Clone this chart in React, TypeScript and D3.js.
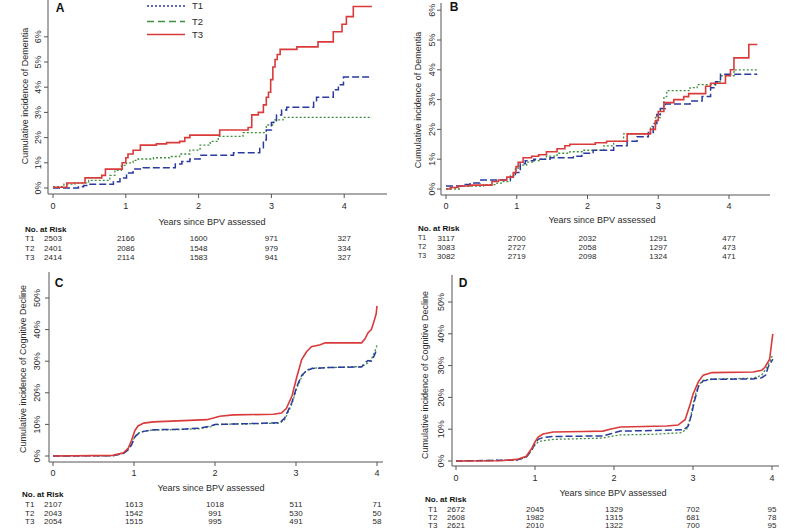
import React from "react";
import * as d3 from "d3";

type Pt = [number, number];

// ---------- data ----------
const xTicks = [0, 1, 2, 3, 4];
const yTicksDementia = [0, 1, 2, 3, 4, 5, 6];
const yTicksCognitive = [0, 10, 20, 30, 40, 50];
const groups = ["T1", "T2", "T3"];

// Panel A: dementia (step curves, %)
const A_T1: Pt[] = [[0,0],[0.35,0.05],[0.42,0.1],[0.49,0.15],[0.83,0.25],[0.92,0.4],[1.01,0.6],[1.1,0.75],[1.24,0.8],[1.68,0.95],[1.77,1.05],[1.88,1.15],[2.02,1.3],[2.48,1.4],[2.84,1.6],[2.89,1.9],[2.93,2.3],[3.0,2.6],[3.07,2.9],[3.14,3.1],[3.21,3.2],[3.58,3.4],[3.62,3.6],[3.85,3.9],[3.92,4.1],[3.99,4.4],[4.38,4.4]];
const A_T2: Pt[] = [[0,0.05],[0.15,0.15],[0.3,0.2],[0.49,0.3],[0.78,0.5],[0.85,0.7],[0.94,0.9],[1.01,1.0],[1.1,1.1],[1.17,1.15],[1.38,1.2],[1.6,1.25],[1.74,1.35],[1.88,1.5],[2.02,1.7],[2.16,1.85],[2.27,2.05],[2.61,2.2],[2.93,2.5],[3.03,2.7],[3.16,2.8],[4.38,2.8]];
const A_T3: Pt[] = [[0,0.03],[0.19,0.2],[0.44,0.4],[0.67,0.5],[0.72,0.75],[0.95,1.0],[1.0,1.2],[1.03,1.35],[1.1,1.5],[1.2,1.7],[1.42,1.75],[1.56,1.8],[1.74,1.85],[1.81,2.0],[1.88,2.1],[2.29,2.3],[2.68,2.4],[2.73,2.9],[2.82,3.0],[2.89,3.3],[2.93,3.6],[2.96,3.8],[2.99,4.3],[3.02,4.8],[3.05,5.1],[3.08,5.3],[3.12,5.5],[3.35,5.6],[3.64,5.8],[3.85,6.2],[3.97,6.5],[4.03,6.8],[4.125,7.2],[4.38,7.2]];

// Panel B: dementia (step curves, %)
const B_T1: Pt[] = [[0,0.1],[0.25,0.15],[0.34,0.2],[0.48,0.3],[0.91,0.4],[0.98,0.55],[1.05,0.85],[1.12,0.95],[1.24,1.0],[1.47,1.05],[1.8,1.1],[1.92,1.2],[2.08,1.3],[2.37,1.45],[2.56,1.6],[2.7,1.75],[2.86,1.9],[2.93,2.2],[2.98,2.5],[3.03,2.7],[3.1,2.85],[3.45,2.95],[3.62,3.1],[3.74,3.4],[3.81,3.6],[3.88,3.85],[4.4,3.85]];
const B_T2: Pt[] = [[0,0],[0.2,0.1],[0.53,0.15],[0.72,0.2],[0.81,0.25],[0.91,0.45],[0.98,0.7],[1.05,0.8],[1.14,0.9],[1.24,0.95],[1.33,1.0],[1.42,1.1],[1.57,1.2],[1.75,1.25],[1.94,1.3],[2.23,1.45],[2.37,1.6],[2.51,1.85],[2.89,2.1],[2.96,2.4],[3.03,2.7],[3.08,3.1],[3.12,3.3],[3.45,3.4],[3.55,3.5],[3.83,3.6],[3.88,3.8],[4.07,4.0],[4.4,4.0]];
const B_T3: Pt[] = [[0,0],[0.06,0.05],[0.17,0.1],[0.34,0.13],[0.65,0.25],[0.74,0.3],[0.86,0.4],[0.95,0.55],[0.99,0.75],[1.02,0.9],[1.09,1.05],[1.21,1.1],[1.31,1.15],[1.42,1.25],[1.57,1.35],[1.68,1.45],[1.75,1.5],[2.11,1.55],[2.27,1.6],[2.56,1.85],[2.89,2.0],[2.96,2.3],[3.0,2.6],[3.08,2.9],[3.22,3.0],[3.36,3.1],[3.43,3.2],[3.67,3.45],[3.74,3.55],[3.95,3.8],[4.02,4.0],[4.07,4.4],[4.28,4.85],[4.4,4.85]];

// Panel C: cognitive decline (%)
const C_T1: Pt[] = [[0,0],[0.74,0.1],[0.87,0.8],[0.93,2],[0.97,3.5],[1.01,6],[1.05,7],[1.12,7.8],[1.24,8.3],[1.6,8.5],[1.8,8.8],[1.95,9.5],[2.0,10],[2.2,10.1],[2.8,10.5],[2.86,12],[2.95,17],[3.01,22],[3.07,25.5],[3.13,27],[3.2,27.7],[3.4,28],[3.81,28.2],[3.85,29.5],[3.89,30.2],[3.93,30],[3.97,32],[4.0,34]];
const C_T2: Pt[] = [[0,0],[0.74,0.1],[0.87,0.9],[0.93,2.2],[0.97,3.8],[1.01,6.2],[1.05,7.2],[1.12,7.9],[1.24,8.2],[1.6,8.4],[1.8,8.6],[1.95,9.3],[2.0,9.9],[2.2,10.1],[2.8,10.4],[2.86,11.5],[2.95,16.5],[3.01,21.5],[3.07,25],[3.13,27.2],[3.2,27.8],[3.4,28],[3.81,28.3],[3.85,28.8],[3.89,29.5],[3.93,30.5],[3.97,33],[4.0,35]];
const C_T3: Pt[] = [[0,0],[0.74,0.2],[0.87,1],[0.93,2.5],[0.97,5],[1.01,8],[1.05,9.5],[1.12,10.4],[1.24,10.8],[1.61,11.2],[1.9,11.5],[1.98,12],[2.06,12.6],[2.23,13],[2.72,13.2],[2.82,13.6],[2.88,15],[2.95,19],[3.01,25],[3.07,30.5],[3.13,33],[3.19,34.6],[3.3,35.2],[3.36,35.8],[3.81,35.8],[3.85,37],[3.89,39],[3.93,40],[3.95,41.5],[3.99,45],[4.0,47.5]];

// Panel D: cognitive decline (%)
const D_T1: Pt[] = [[0,0],[0.77,0.3],[0.89,1.2],[0.96,3.5],[1.0,5.5],[1.04,6.8],[1.1,7.4],[1.23,7.7],[1.86,7.9],[1.95,8.5],[2.08,9.4],[2.5,9.6],[2.88,9.8],[2.94,11],[2.98,14.5],[3.02,19],[3.07,23.5],[3.13,25.2],[3.24,25.7],[3.76,25.8],[3.87,26.2],[3.92,27],[3.95,29.5],[4.01,32]];
const D_T2: Pt[] = [[0,0],[0.77,0.3],[0.89,1.2],[0.96,3.5],[1.0,5],[1.04,6],[1.1,6.4],[1.23,6.8],[1.86,7.2],[1.95,7.7],[2.08,8.2],[2.5,8.4],[2.85,8.9],[2.92,10],[2.97,14],[3.02,20],[3.07,24],[3.13,25.4],[3.24,25.8],[3.76,26],[3.87,27],[3.95,30],[4.01,33.5]];
const D_T3: Pt[] = [[0,0],[0.56,0.1],[0.77,0.5],[0.89,1.5],[0.96,4],[1.0,6],[1.04,7.5],[1.1,8.5],[1.23,9.1],[1.61,9.3],[1.86,9.4],[1.95,10],[2.08,10.7],[2.67,11],[2.81,11.3],[2.9,13],[2.96,17.5],[3.0,21],[3.07,25],[3.13,27],[3.24,27.8],[3.76,28],[3.87,28.5],[3.91,29.5],[3.97,32],[4.01,40]];

// Numbers at risk
const riskA_T1 = [2503, 2166, 1600, 971, 327];
const riskA_T2 = [2401, 2086, 1548, 979, 334];
const riskA_T3 = [2414, 2114, 1583, 941, 327];
const riskB_T1 = [3117, 2700, 2032, 1291, 477];
const riskB_T2 = [3083, 2727, 2058, 1297, 473];
const riskB_T3 = [3082, 2719, 2098, 1324, 471];
const riskC_T1 = [2107, 1613, 1018, 511, 71];
const riskC_T2 = [2043, 1542, 991, 530, 50];
const riskC_T3 = [2054, 1515, 995, 491, 58];
const riskD_T1 = [2672, 2045, 1329, 702, 95];
const riskD_T2 = [2608, 1982, 1315, 681, 78];
const riskD_T3 = [2621, 2010, 1322, 700, 95];

// ---------- styles ----------
const FONT = "'Liberation Sans', Arial, sans-serif";
const AXIS = "#555";
const TEXT = "#2a2a2a";
const seriesStyle = [
  { color: "#2b3a9e", dash: "7,3", width: 1.5 },   // T1 (drawn dashed)
  { color: "#3f8f3f", dash: "2,2", width: 1.3 },   // T2 (drawn dotted)
  { color: "#d93a3a", dash: "", width: 1.6 },      // T3 solid
];

interface PanelCfg {
  letter: string;
  letterPos: [number, number];
  xRange: [number, number];
  yDomain: [number, number];
  yRange: [number, number];
  yTicks: number[];
  axisX: number;
  axisY: number;
  axisTop: number;
  axisRight: number;
  yTickLabelX: number;
  yTitle: string;
  yTitlePos: [number, number];
  xTickLabelY: number;
  xTitlePos: [number, number];
  riskTitlePos: [number, number];
  riskRowsY: number[];
  riskLabelX: number;
  riskLabelSize: number;
  series: Pt[][];
  risk: number[][];
  step: boolean;
}

const panels: PanelCfg[] = [
  {
    letter: "A", letterPos: [60, 8],
    xRange: [53, 344.2], yDomain: [0, 6], yRange: [188, 36.8], yTicks: yTicksDementia,
    axisX: 48, axisY: 194, axisTop: 0, axisRight: 387, yTickLabelX: 38,
    yTitle: "Cumulative incidence of Dementia", yTitlePos: [25, 96],
    xTickLabelY: 206, xTitlePos: [212, 222], riskTitlePos: [25, 229],
    riskRowsY: [238, 248, 257], riskLabelX: 25, riskLabelSize: 8,
    series: [A_T1, A_T2, A_T3], risk: [riskA_T1, riskA_T2, riskA_T3], step: true,
  },
  {
    letter: "B", letterPos: [454, 7],
    xRange: [446, 729], yDomain: [0, 6], yRange: [189, 10.2], yTicks: yTicksDementia,
    axisX: 441, axisY: 195, axisTop: 3, axisRight: 770, yTickLabelX: 432,
    yTitle: "Cumulative incidence of Dementia", yTitlePos: [418, 100],
    xTickLabelY: 206, xTitlePos: [602, 220], riskTitlePos: [418, 228],
    riskRowsY: [238, 247, 256], riskLabelX: 418, riskLabelSize: 7,
    series: [B_T1, B_T2, B_T3], risk: [riskB_T1, riskB_T2, riskB_T3], step: true,
  },
  {
    letter: "C", letterPos: [59, 283],
    xRange: [53, 377], yDomain: [0, 50], yRange: [456, 298], yTicks: yTicksCognitive,
    axisX: 49, axisY: 462, axisTop: 272, axisRight: 383, yTickLabelX: 37,
    yTitle: "Cumulative incidence of Cognitive Decline", yTitlePos: [23, 369],
    xTickLabelY: 473, xTitlePos: [211, 488], riskTitlePos: [22, 494],
    riskRowsY: [504, 513, 521], riskLabelX: 25, riskLabelSize: 8,
    series: [C_T1, C_T2, C_T3], risk: [riskC_T1, riskC_T2, riskC_T3], step: false,
  },
  {
    letter: "D", letterPos: [463, 283],
    xRange: [456, 772], yDomain: [0, 50], yRange: [461, 302], yTicks: yTicksCognitive,
    axisX: 452, axisY: 466, axisTop: 275, axisRight: 779, yTickLabelX: 441,
    yTitle: "Cumulative incidence of Cognitive Decline", yTitlePos: [425, 375],
    xTickLabelY: 478, xTitlePos: [613, 492.5], riskTitlePos: [425, 499],
    riskRowsY: [509.5, 517.5, 525], riskLabelX: 428, riskLabelSize: 8,
    series: [D_T1, D_T2, D_T3], risk: [riskD_T1, riskD_T2, riskD_T3], step: false,
  },
];

function Panel({ p }: { p: PanelCfg }) {
  const x = d3.scaleLinear().domain([0, 4]).range(p.xRange);
  const y = d3.scaleLinear().domain(p.yDomain).range(p.yRange);
  const line = d3
    .line<Pt>()
    .x((d) => x(d[0]))
    .y((d) => y(d[1]))
    .curve(p.step ? d3.curveStepAfter : d3.curveLinear);
  const order = [1, 0, 2];
  return (
    <g>
      <line x1={p.axisX} x2={p.axisX} y1={p.axisTop} y2={p.axisY} stroke={AXIS} strokeWidth={1} />
      <line x1={p.axisX} x2={p.axisRight} y1={p.axisY} y2={p.axisY} stroke={AXIS} strokeWidth={1} />
      {p.yTicks.map((t) => (
        <g key={"yt" + t}>
          <line x1={p.axisX - 4} x2={p.axisX} y1={y(t)} y2={y(t)} stroke={AXIS} />
          <text
            transform={`translate(${p.yTickLabelX},${y(t)}) rotate(-90)`}
            textAnchor="middle"
            dy="0.35em"
            fontSize={9}
            fill={TEXT}
          >
            {t + "%"}
          </text>
        </g>
      ))}
      {xTicks.map((t) => (
        <g key={"xt" + t}>
          <line x1={x(t)} x2={x(t)} y1={p.axisY} y2={p.axisY + 4} stroke={AXIS} />
          <text x={x(t)} y={p.xTickLabelY} dy="0.35em" textAnchor="middle" fontSize={9} fill={TEXT}>
            {t}
          </text>
        </g>
      ))}
      <text
        transform={`translate(${p.yTitlePos[0]},${p.yTitlePos[1]}) rotate(-90)`}
        textAnchor="middle"
        dy="0.35em"
        fontSize={9}
        fill={TEXT}
      >
        {p.yTitle}
      </text>
      <text x={p.xTitlePos[0]} y={p.xTitlePos[1]} dy="0.35em" textAnchor="middle" fontSize={9} fill={TEXT}>
        Years since BPV assessed
      </text>
      <text x={p.letterPos[0]} y={p.letterPos[1]} dy="0.35em" textAnchor="middle" fontSize={12} fontWeight="bold" fill="#111">
        {p.letter}
      </text>
      {order.map((i) => (
        <path
          key={"s" + i}
          d={line(p.series[i]) || ""}
          fill="none"
          stroke={seriesStyle[i].color}
          strokeWidth={seriesStyle[i].width}
          strokeDasharray={seriesStyle[i].dash || undefined}
        />
      ))}
      <text x={p.riskTitlePos[0]} y={p.riskTitlePos[1]} dy="0.35em" fontSize={8} fontWeight="bold" fill="#111">
        No. at Risk
      </text>
      {groups.map((g, gi) => (
        <g key={"r" + g}>
          <text x={p.riskLabelX} y={p.riskRowsY[gi]} dy="0.35em" fontSize={p.riskLabelSize} fill={TEXT}>
            {g}
          </text>
          {p.risk[gi].map((n, ti) => (
            <text key={ti} x={x(xTicks[ti])} y={p.riskRowsY[gi]} dy="0.35em" textAnchor="middle" fontSize={8} fill={TEXT}>
              {n}
            </text>
          ))}
        </g>
      ))}
    </g>
  );
}

// legend in panel A (as printed in the figure)
const legendStyle = [
  { color: "#2b3a9e", dash: "2,2" },
  { color: "#3f8f3f", dash: "7,4" },
  { color: "#d93a3a", dash: "" },
];
const legendY = [6, 21.5, 34.5];

export default function App() {
  return (
    <svg
      width={800}
      height={530}
      style={{ position: "absolute", left: 0, top: 0, background: "#fff" }}
      fontFamily={FONT}
    >
      <rect x={0} y={0} width={800} height={530} fill="#fff" />
      {panels.map((p) => (
        <Panel key={p.letter} p={p} />
      ))}
      {groups.map((g, i) => (
        <g key={"lg" + g}>
          <line
            x1={147}
            x2={185}
            y1={legendY[i]}
            y2={legendY[i]}
            stroke={legendStyle[i].color}
            strokeWidth={1.4}
            strokeDasharray={legendStyle[i].dash || undefined}
          />
          <text x={192} y={legendY[i]} dy="0.35em" fontSize={9.5} fill={TEXT}>
            {g}
          </text>
        </g>
      ))}
    </svg>
  );
}
